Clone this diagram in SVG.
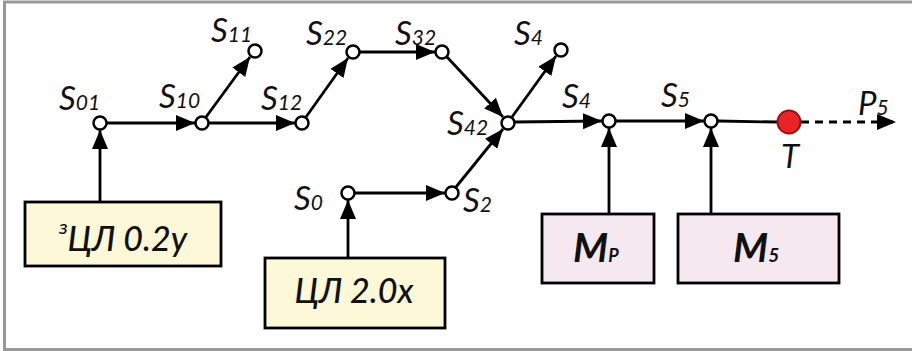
<svg xmlns="http://www.w3.org/2000/svg" width="912" height="351" viewBox="0 0 912 351">
<style>
.frame{fill:none;stroke:#999;stroke-width:3}
.ln{fill:none;stroke:#000;stroke-width:2.8}
.dash{fill:none;stroke:#000;stroke-width:3;stroke-dasharray:8 6}
.nd{fill:#fff;stroke:#000;stroke-width:2.5}
.lbl{font-family:Lato,'Open Sans','Noto Sans',sans-serif;font-style:italic;font-size:33px;fill:#111}
.sub{font-size:21px}
.box1{fill:#fcf8d8;stroke:#000;stroke-width:2.8}
.box2{fill:#f6e8ef;stroke:#000;stroke-width:2.8}
.bt{font-family:Lato,'Open Sans','Noto Sans',sans-serif;font-style:italic;font-weight:500;font-size:34px;fill:#111;text-anchor:middle}
.mt{font-family:Lato,'Open Sans','Noto Sans',sans-serif;font-style:italic;font-weight:bold;font-size:40px;fill:#111}
</style>
<defs>
<marker id="ah" markerUnits="userSpaceOnUse" markerWidth="20" markerHeight="18" refX="19" refY="8" orient="auto">
<path d="M0,0 L19,8 L0,16 z" fill="#000"/>
</marker>
</defs>
<path class="frame" d="M914,2 H4.5 V349.5 H914"/>
<g id="connectors">
<line class="ln" x1="100" y1="202" x2="100" y2="130" marker-end="url(#ah)"/>
<line class="ln" x1="107" y1="123" x2="195" y2="123" marker-end="url(#ah)"/>
<line class="ln" x1="206" y1="117" x2="250" y2="57" marker-end="url(#ah)"/>
<line class="ln" x1="209" y1="123" x2="295" y2="123" marker-end="url(#ah)"/>
<line class="ln" x1="306" y1="117" x2="348" y2="58" marker-end="url(#ah)"/>
<line class="ln" x1="360" y1="52" x2="435" y2="52" marker-end="url(#ah)"/>
<line class="ln" x1="447" y1="57" x2="503" y2="117" marker-end="url(#ah)"/>
<line class="ln" x1="456" y1="187" x2="503" y2="129" marker-end="url(#ah)"/>
<line class="ln" x1="512" y1="117" x2="556" y2="56" marker-end="url(#ah)"/>
<line class="ln" x1="515" y1="122" x2="602" y2="121" marker-end="url(#ah)"/>
<line class="ln" x1="616" y1="121" x2="704" y2="121" marker-end="url(#ah)"/>
<line class="ln" x1="609" y1="214" x2="609" y2="128" marker-end="url(#ah)"/>
<line class="ln" x1="711" y1="214" x2="711" y2="128" marker-end="url(#ah)"/>
<line class="ln" x1="718" y1="121" x2="777" y2="122"/>
<line class="dash" x1="801" y1="122" x2="896" y2="122" marker-end="url(#ah)"/>
<line class="ln" x1="348" y1="258" x2="348" y2="200" marker-end="url(#ah)"/>
<line class="ln" x1="355" y1="193" x2="445" y2="193" marker-end="url(#ah)"/>
</g>
<g id="S01"><circle class="nd" cx="100" cy="123" r="6.5"/><text class="lbl" x="59" y="110">S<tspan class="sub">01</tspan></text></g>
<g id="S10"><circle class="nd" cx="202" cy="123" r="6.5"/><text class="lbl" x="159" y="108">S<tspan class="sub">10</tspan></text></g>
<g id="S11"><circle class="nd" cx="255" cy="51" r="6.5"/><text class="lbl" x="211" y="42">S<tspan class="sub">11</tspan></text></g>
<g id="S12"><circle class="nd" cx="302" cy="123" r="6.5"/><text class="lbl" x="261" y="110">S<tspan class="sub">12</tspan></text></g>
<g id="S22"><circle class="nd" cx="353" cy="52" r="6.5"/><text class="lbl" x="306" y="45">S<tspan class="sub">22</tspan></text></g>
<g id="S32"><circle class="nd" cx="442" cy="52" r="6.5"/><text class="lbl" x="395" y="45">S<tspan class="sub">32</tspan></text></g>
<g id="S42"><circle class="nd" cx="508" cy="123" r="6.5"/><text class="lbl" x="447" y="135">S<tspan class="sub">42</tspan></text></g>
<g id="S4a"><circle class="nd" cx="561" cy="50" r="6.5"/><text class="lbl" x="514" y="45">S<tspan class="sub">4</tspan></text></g>
<g id="S4b"><circle class="nd" cx="609" cy="121" r="6.5"/><text class="lbl" x="562" y="108">S<tspan class="sub">4</tspan></text></g>
<g id="S5"><circle class="nd" cx="711" cy="121" r="6.5"/><text class="lbl" x="661" y="107">S<tspan class="sub">5</tspan></text></g>
<g id="T"><circle cx="789" cy="122" r="11.5" fill="#e82424" stroke="#9a1010" stroke-width="2"/><text class="lbl" x="781" y="168">T</text></g>
<g id="P5"><text class="lbl" x="858" y="115">P<tspan class="sub">5</tspan></text></g>
<g id="S0"><circle class="nd" cx="348" cy="193" r="6.5"/><text class="lbl" x="294" y="210">S<tspan class="sub">0</tspan></text></g>
<g id="S2"><circle class="nd" cx="452" cy="193" r="6.5"/><text class="lbl" x="463" y="212">S<tspan class="sub">2</tspan></text></g>
<g id="box1"><rect class="box1" x="25" y="202" width="196" height="64"/><text class="bt" x="123" y="251"><tspan font-size="20" dy="-17">з</tspan><tspan dy="17">ЦЛ 0.2у</tspan></text></g>
<g id="box2"><rect class="box1" x="265" y="258" width="180" height="70"/><text class="bt" x="354" y="303">ЦЛ 2.0х</text></g>
<g id="Mp"><rect class="box2" x="542" y="214" width="112" height="69"/><text class="mt" x="573" y="262">M<tspan font-size="18">P</tspan></text></g>
<g id="M5"><rect class="box2" x="678" y="214" width="161" height="69"/><text class="mt" x="733" y="262">M<tspan font-size="19">5</tspan></text></g>
</svg>
